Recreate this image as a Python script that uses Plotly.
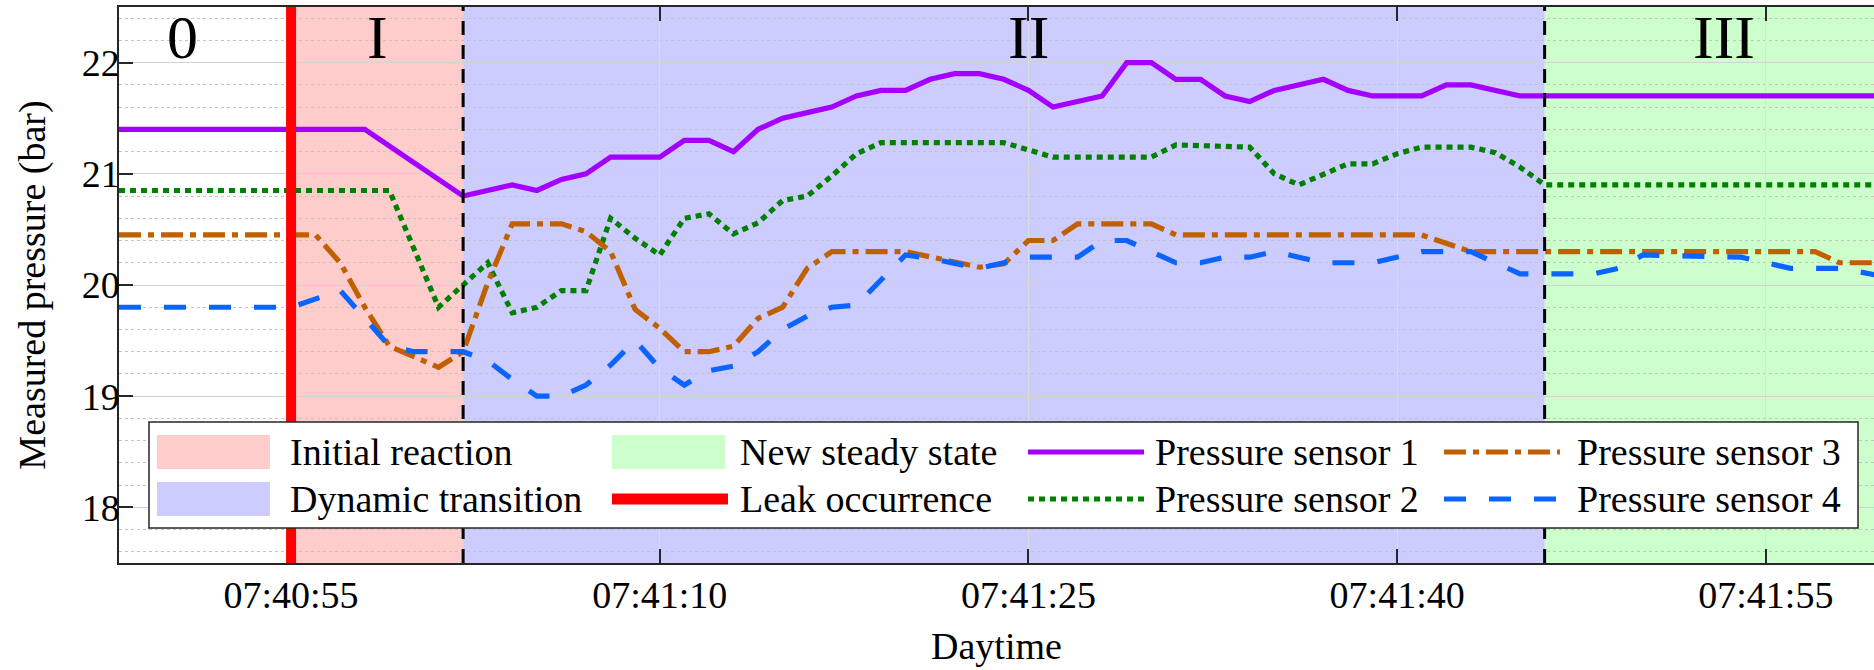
import pandas as pd
import plotly.graph_objects as go

# ---------------- data (seconds relative to 07:40:55) ----------------
T0 = "2024-01-01 07:40:55"

s1_t = [-7, 3, 7, 9, 10, 11, 12, 13, 15, 16, 17, 18, 19, 20, 21, 22, 23, 24, 25, 26,
        27, 28, 29, 30, 31, 33, 34, 35, 36, 37, 38, 39, 40, 42, 43, 44, 46, 47, 48, 50, 65]
s1_v = [21.4, 21.4, 20.8, 20.9, 20.85, 20.95, 21.0, 21.15, 21.15, 21.3, 21.3, 21.2, 21.4, 21.5,
        21.55, 21.6, 21.7, 21.75, 21.75, 21.85, 21.9, 21.9, 21.85, 21.75, 21.6, 21.7, 22.0, 22.0,
        21.85, 21.85, 21.7, 21.65, 21.75, 21.85, 21.75, 21.7, 21.7, 21.8, 21.8, 21.7, 21.7]

s2_t = [-7, 4, 6, 7, 8, 9, 10, 11, 12, 13, 14, 15, 16, 17, 18, 19, 20, 21, 22, 23,
        24, 29, 30, 31, 35, 36, 39, 40, 41, 42, 43, 44, 45, 46, 48, 49, 50, 51, 65]
s2_v = [20.85, 20.85, 19.8, 20.0, 20.2, 19.75, 19.8, 19.95, 19.95, 20.6, 20.42, 20.27, 20.6,
        20.64, 20.46, 20.56, 20.76, 20.8, 20.98, 21.18, 21.28, 21.28, 21.22, 21.15, 21.15, 21.26,
        21.24, 21.0, 20.9, 21.0, 21.09, 21.09, 21.18, 21.24, 21.24, 21.19, 21.06, 20.9, 20.9]

s3_t = [-7, 1, 2, 3, 4, 5, 6, 7, 8, 9, 11, 12, 13, 14, 15, 16, 17, 18, 19, 20,
        21, 22, 25, 28, 29, 30, 31, 32, 35, 36, 46, 48, 62, 63, 65]
s3_v = [20.45, 20.45, 20.2, 19.8, 19.45, 19.36, 19.26, 19.4, 20.02, 20.55, 20.55, 20.48, 20.3,
        19.78, 19.61, 19.4, 19.4, 19.45, 19.7, 19.8, 20.15, 20.3, 20.3, 20.16, 20.19, 20.4, 20.4,
        20.55, 20.55, 20.45, 20.45, 20.3, 20.3, 20.2, 20.2]

s4_t = [-7, 0, 2, 4, 5, 7, 8, 9, 10, 11, 12, 13, 14, 15, 16, 17, 18, 19, 20, 21,
        22, 23, 25, 26, 28, 29, 30, 32, 33, 34, 35, 36, 37, 38, 39, 40, 41, 42, 44, 45,
        46, 48, 49, 50, 53, 54, 55, 59, 60, 61, 63, 65]
s4_v = [19.8, 19.8, 19.95, 19.45, 19.4, 19.4, 19.32, 19.15, 19.0, 19.0, 19.1, 19.28, 19.5, 19.25,
        19.1, 19.23, 19.27, 19.4, 19.6, 19.72, 19.8, 19.82, 20.27, 20.24, 20.15, 20.2, 20.25,
        20.25, 20.4, 20.4, 20.3, 20.2, 20.2, 20.25, 20.25, 20.3, 20.25, 20.2, 20.2, 20.25, 20.3,
        20.3, 20.2, 20.1, 20.1, 20.15, 20.27, 20.25, 20.2, 20.15, 20.15, 20.07]

series_names = ["Pressure sensor 1", "Pressure sensor 2", "Pressure sensor 3", "Pressure sensor 4"]

leak_t = 0                      # leak occurrence
phase_edges = [0, 7, 51, 65]    # I, II, III boundaries
phase_names = ["Initial reaction", "Dynamic transition", "New steady state"]
phase_labels = ["0", "I", "II", "III"]
phase_label_t = [-4.4, 3.5, 30, 58.3]

x_range_t = [-7, 64.4]
y_range = [17.5, 22.5]

# ---------------- styles ----------------
FONT = "Liberation Serif, Times New Roman, serif"
FS = 38
line_colors = ["#A400FF", "#008000", "#C06000", "#0A64FF"]
line_dash = ["solid", "6px,5px", "22px,7px,6px,7px", "22px,23px"]
LW = 5.2
phase_fill = ["rgba(255,0,0,0.2)", "rgba(0,0,255,0.2)", "rgba(0,255,0,0.2)"]

t0 = pd.Timestamp(T0)


def tx(sec):
    return t0 + pd.to_timedelta(sec, unit="s")


fig = go.Figure()
for tt, vv, nm, c, d in zip([s1_t, s2_t, s3_t, s4_t], [s1_v, s2_v, s3_v, s4_v],
                            series_names, line_colors, line_dash):
    fig.add_trace(go.Scatter(x=tx(pd.Index(tt, dtype=float)), y=vv, mode="lines", name=nm,
                             line=dict(color=c, width=LW, dash=d), showlegend=False))

# phase regions
for i in range(3):
    fig.add_shape(type="rect", xref="x", yref="paper", x0=tx(phase_edges[i]), x1=tx(phase_edges[i + 1]),
                  y0=0, y1=1, fillcolor=phase_fill[i], line_width=0, layer="below")
# phase boundary dashed lines
for e in phase_edges[1:3]:
    fig.add_shape(type="line", xref="x", yref="paper", x0=tx(e), x1=tx(e), y0=0, y1=1,
                  line=dict(color="black", width=3, dash="14px,10px"), layer="above")
# leak line
fig.add_shape(type="line", xref="x", yref="paper", x0=tx(leak_t), x1=tx(leak_t), y0=0, y1=1,
              line=dict(color="#FF0000", width=10), layer="above")

# phase labels
for lab, lt in zip(phase_labels, phase_label_t):
    fig.add_annotation(x=tx(lt), y=0.946, xref="x", yref="paper", text=lab, showarrow=False,
                       xanchor="center", yanchor="middle", font=dict(family=FONT, size=62, color="black"))

# ---------------- manual legend (pixel layout -> paper) ----------------
PL, PR, PT, PB = 119, 1874, 7, 563


def px(v):
    return (v - PL) / (PR - PL)


def py(v):
    return (PB - v) / (PB - PT)


fig.add_shape(type="rect", xref="paper", yref="paper", x0=px(149), x1=px(1858), y0=py(528), y1=py(422),
              fillcolor="white", line=dict(color="#262626", width=1.5), layer="above")

col_sym = [157, 612, 1028, 1444]
col_txt = [288, 738, 1153, 1575]
rows = [452, 499]
entries = [
    (phase_names[0], "patch", phase_fill[0], None, 0, 0),
    (phase_names[1], "patch", phase_fill[1], None, 0, 1),
    (phase_names[2], "patch", phase_fill[2], None, 1, 0),
    ("Leak occurrence", "line", "#FF0000", ("solid", 11), 1, 1),
    (series_names[0], "line", line_colors[0], (line_dash[0], LW), 2, 0),
    (series_names[1], "line", line_colors[1], (line_dash[1], LW), 2, 1),
    (series_names[2], "line", line_colors[2], (line_dash[2], LW), 3, 0),
    (series_names[3], "line", line_colors[3], (line_dash[3], LW), 3, 1),
]
for lab, kind, col, ls, ci, ri in entries:
    yc = rows[ri]
    x0 = col_sym[ci]
    if kind == "patch":
        fig.add_shape(type="rect", xref="paper", yref="paper", x0=px(x0), x1=px(x0 + 113),
                      y0=py(yc + 17), y1=py(yc - 17), fillcolor=col, line_width=0, layer="above")
    else:
        fig.add_shape(type="line", xref="paper", yref="paper", x0=px(x0), x1=px(x0 + 116),
                      y0=py(yc), y1=py(yc), line=dict(color=col, width=ls[1], dash=ls[0]), layer="above")
    fig.add_annotation(x=px(col_txt[ci]), y=py(yc), xref="paper", yref="paper", text=lab,
                       showarrow=False, xanchor="left", yanchor="middle",
                       font=dict(family=FONT, size=FS, color="black"))

axis_common = dict(ticks="inside", ticklen=14, tickwidth=1.5, tickcolor="#262626", showline=True,
                   linecolor="#262626", linewidth=1.5, zeroline=False,
                   tickfont=dict(family=FONT, size=FS, color="black"))

fig.update_layout(
    width=1874, height=670, margin=dict(l=PL, r=0, t=PT, b=670 - PB),
    paper_bgcolor="white", plot_bgcolor="white", showlegend=False,
    font=dict(family=FONT, size=FS, color="black"),
    xaxis=dict(type="date", range=[tx(x_range_t[0]), tx(x_range_t[1])], tickformat="%H:%M:%S",
               tick0=t0, dtick=15000, mirror="ticks", showgrid=True, gridcolor="#dcdcdc", gridwidth=1,
               ticklabelstandoff=-2,
               title=dict(text="Daytime", font=dict(family=FONT, size=FS), standoff=17), **axis_common),
    yaxis=dict(range=y_range, dtick=1, tick0=0, mirror=False, showgrid=True, gridcolor="#d2d2d2",
               gridwidth=1, ticklabelstandoff=-10,
               minor=dict(dtick=0.2, showgrid=True, gridcolor="#c4c4c4", griddash="dot", gridwidth=1),
               title=dict(text="Measured pressure (bar)", font=dict(family=FONT, size=FS), standoff=24),
               **axis_common),
)

fig.write_html("out.html")
